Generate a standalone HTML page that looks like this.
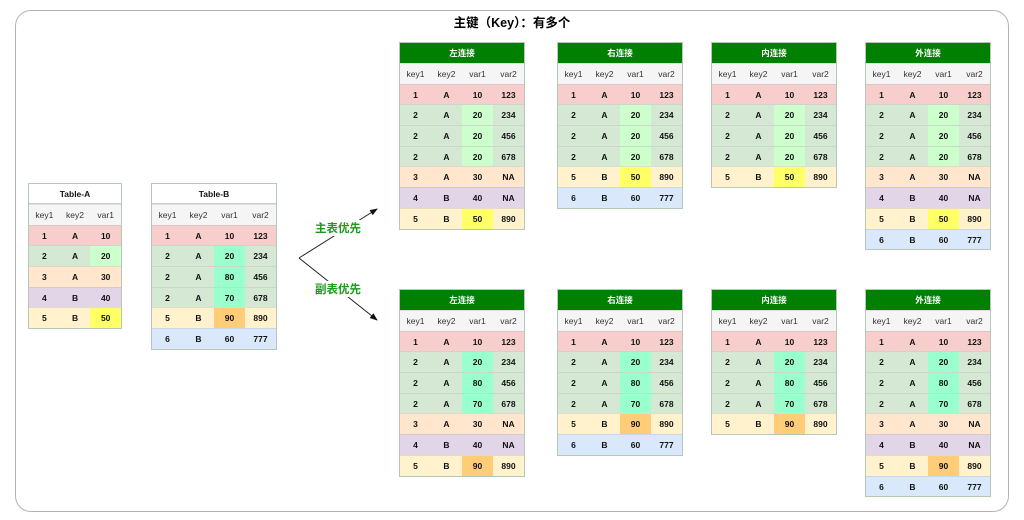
<!DOCTYPE html>
<html><head><meta charset="utf-8"><style>
*{margin:0;padding:0;box-sizing:border-box}
body{width:1024px;height:520px;background:#fff;position:relative;overflow:hidden;font-family:"Liberation Sans","Noto Sans CJK SC",sans-serif}
.box{position:absolute;left:15px;top:10px;width:994px;height:502px;border:1px solid #b3b3b3;border-radius:16px}
.ttl{position:absolute;left:0;top:12px;width:1024px;text-align:center;font-size:12.5px;font-weight:bold;color:#000}
.t{position:absolute;border:1px solid #b8c8b8;font-size:8.5px;font-weight:bold;color:#111}
.t4{width:126px}.t3{width:94px}
.h{height:20px;line-height:20px;text-align:center;background:#008000;color:#fff;font-size:8.5px}
.hw{background:#fff;color:#111;border-bottom:1px solid #ccc}
.r{display:flex;height:20.7px;line-height:20.7px;border-top:1px solid rgba(180,180,180,.35)}
.r i{font-style:normal;flex:1;text-align:center}
.hd{background:#f5f5f5;color:#333;font-weight:normal}
.p{background:#f8cecc}.g{background:#d5e8d4}.o{background:#ffe6cc}.u{background:#e1d5e7}.y{background:#fff2cc}.b{background:#dae8fc}
i.lg{background:#ccffcc}i.ye{background:#ffff66}i.mi{background:#99ffcc}i.or{background:#ffcc77}
.lab{position:absolute;font-size:11.5px;font-weight:bold;color:#1a9a1a}
</style></head><body>
<div class="box"></div>
<div class="ttl">主键（Key）：有多个</div>

<div class="t t3" style="left:28px;top:183px">
<div class="h hw">Table-A</div>
<div class="r hd"><i>key1</i><i>key2</i><i>var1</i></div>
<div class="r p"><i>1</i><i>A</i><i>10</i></div>
<div class="r g"><i>2</i><i>A</i><i class="lg">20</i></div>
<div class="r o"><i>3</i><i>A</i><i>30</i></div>
<div class="r u"><i>4</i><i>B</i><i>40</i></div>
<div class="r y"><i>5</i><i>B</i><i class="ye">50</i></div>
</div>

<div class="t t4" style="left:151px;top:183px">
<div class="h hw">Table-B</div>
<div class="r hd"><i>key1</i><i>key2</i><i>var1</i><i>var2</i></div>
<div class="r p"><i>1</i><i>A</i><i>10</i><i>123</i></div>
<div class="r g"><i>2</i><i>A</i><i class="mi">20</i><i>234</i></div>
<div class="r g"><i>2</i><i>A</i><i class="mi">80</i><i>456</i></div>
<div class="r g"><i>2</i><i>A</i><i class="mi">70</i><i>678</i></div>
<div class="r y"><i>5</i><i>B</i><i class="or">90</i><i>890</i></div>
<div class="r b"><i>6</i><i>B</i><i>60</i><i>777</i></div>
</div>

<svg style="position:absolute;left:0;top:0" width="1024" height="520">
<defs><marker id="a" markerWidth="8" markerHeight="8" refX="7" refY="4" orient="auto"><path d="M0,1 L8,4 L0,7 Z" fill="#111"/></marker></defs>
<path d="M299,258 L377,209" stroke="#222" stroke-width="1" fill="none" marker-end="url(#a)"/>
<path d="M299,258 L377,320" stroke="#222" stroke-width="1" fill="none" marker-end="url(#a)"/>
</svg>
<div class="lab" style="left:315px;top:220px;background:#fff">主表优先</div>
<div class="lab" style="left:315px;top:281px;background:#fff">副表优先</div>

<div class="t t4" style="left:399px;top:42px">
<div class="h">左连接</div>
<div class="r hd"><i>key1</i><i>key2</i><i>var1</i><i>var2</i></div>
<div class="r p"><i>1</i><i>A</i><i>10</i><i>123</i></div>
<div class="r g"><i>2</i><i>A</i><i class="lg">20</i><i>234</i></div>
<div class="r g"><i>2</i><i>A</i><i class="lg">20</i><i>456</i></div>
<div class="r g"><i>2</i><i>A</i><i class="lg">20</i><i>678</i></div>
<div class="r o"><i>3</i><i>A</i><i>30</i><i>NA</i></div>
<div class="r u"><i>4</i><i>B</i><i>40</i><i>NA</i></div>
<div class="r y"><i>5</i><i>B</i><i class="ye">50</i><i>890</i></div>
</div>
<div class="t t4" style="left:557px;top:42px">
<div class="h">右连接</div>
<div class="r hd"><i>key1</i><i>key2</i><i>var1</i><i>var2</i></div>
<div class="r p"><i>1</i><i>A</i><i>10</i><i>123</i></div>
<div class="r g"><i>2</i><i>A</i><i class="lg">20</i><i>234</i></div>
<div class="r g"><i>2</i><i>A</i><i class="lg">20</i><i>456</i></div>
<div class="r g"><i>2</i><i>A</i><i class="lg">20</i><i>678</i></div>
<div class="r y"><i>5</i><i>B</i><i class="ye">50</i><i>890</i></div>
<div class="r b"><i>6</i><i>B</i><i>60</i><i>777</i></div>
</div>
<div class="t t4" style="left:711px;top:42px">
<div class="h">内连接</div>
<div class="r hd"><i>key1</i><i>key2</i><i>var1</i><i>var2</i></div>
<div class="r p"><i>1</i><i>A</i><i>10</i><i>123</i></div>
<div class="r g"><i>2</i><i>A</i><i class="lg">20</i><i>234</i></div>
<div class="r g"><i>2</i><i>A</i><i class="lg">20</i><i>456</i></div>
<div class="r g"><i>2</i><i>A</i><i class="lg">20</i><i>678</i></div>
<div class="r y"><i>5</i><i>B</i><i class="ye">50</i><i>890</i></div>
</div>
<div class="t t4" style="left:865px;top:42px">
<div class="h">外连接</div>
<div class="r hd"><i>key1</i><i>key2</i><i>var1</i><i>var2</i></div>
<div class="r p"><i>1</i><i>A</i><i>10</i><i>123</i></div>
<div class="r g"><i>2</i><i>A</i><i class="lg">20</i><i>234</i></div>
<div class="r g"><i>2</i><i>A</i><i class="lg">20</i><i>456</i></div>
<div class="r g"><i>2</i><i>A</i><i class="lg">20</i><i>678</i></div>
<div class="r o"><i>3</i><i>A</i><i>30</i><i>NA</i></div>
<div class="r u"><i>4</i><i>B</i><i>40</i><i>NA</i></div>
<div class="r y"><i>5</i><i>B</i><i class="ye">50</i><i>890</i></div>
<div class="r b"><i>6</i><i>B</i><i>60</i><i>777</i></div>
</div>

<div class="t t4" style="left:399px;top:289px">
<div class="h">左连接</div>
<div class="r hd"><i>key1</i><i>key2</i><i>var1</i><i>var2</i></div>
<div class="r p"><i>1</i><i>A</i><i>10</i><i>123</i></div>
<div class="r g"><i>2</i><i>A</i><i class="mi">20</i><i>234</i></div>
<div class="r g"><i>2</i><i>A</i><i class="mi">80</i><i>456</i></div>
<div class="r g"><i>2</i><i>A</i><i class="mi">70</i><i>678</i></div>
<div class="r o"><i>3</i><i>A</i><i>30</i><i>NA</i></div>
<div class="r u"><i>4</i><i>B</i><i>40</i><i>NA</i></div>
<div class="r y"><i>5</i><i>B</i><i class="or">90</i><i>890</i></div>
</div>
<div class="t t4" style="left:557px;top:289px">
<div class="h">右连接</div>
<div class="r hd"><i>key1</i><i>key2</i><i>var1</i><i>var2</i></div>
<div class="r p"><i>1</i><i>A</i><i>10</i><i>123</i></div>
<div class="r g"><i>2</i><i>A</i><i class="mi">20</i><i>234</i></div>
<div class="r g"><i>2</i><i>A</i><i class="mi">80</i><i>456</i></div>
<div class="r g"><i>2</i><i>A</i><i class="mi">70</i><i>678</i></div>
<div class="r y"><i>5</i><i>B</i><i class="or">90</i><i>890</i></div>
<div class="r b"><i>6</i><i>B</i><i>60</i><i>777</i></div>
</div>
<div class="t t4" style="left:711px;top:289px">
<div class="h">内连接</div>
<div class="r hd"><i>key1</i><i>key2</i><i>var1</i><i>var2</i></div>
<div class="r p"><i>1</i><i>A</i><i>10</i><i>123</i></div>
<div class="r g"><i>2</i><i>A</i><i class="mi">20</i><i>234</i></div>
<div class="r g"><i>2</i><i>A</i><i class="mi">80</i><i>456</i></div>
<div class="r g"><i>2</i><i>A</i><i class="mi">70</i><i>678</i></div>
<div class="r y"><i>5</i><i>B</i><i class="or">90</i><i>890</i></div>
</div>
<div class="t t4" style="left:865px;top:289px">
<div class="h">外连接</div>
<div class="r hd"><i>key1</i><i>key2</i><i>var1</i><i>var2</i></div>
<div class="r p"><i>1</i><i>A</i><i>10</i><i>123</i></div>
<div class="r g"><i>2</i><i>A</i><i class="mi">20</i><i>234</i></div>
<div class="r g"><i>2</i><i>A</i><i class="mi">80</i><i>456</i></div>
<div class="r g"><i>2</i><i>A</i><i class="mi">70</i><i>678</i></div>
<div class="r o"><i>3</i><i>A</i><i>30</i><i>NA</i></div>
<div class="r u"><i>4</i><i>B</i><i>40</i><i>NA</i></div>
<div class="r y"><i>5</i><i>B</i><i class="or">90</i><i>890</i></div>
<div class="r b"><i>6</i><i>B</i><i>60</i><i>777</i></div>
</div>
</body></html>
